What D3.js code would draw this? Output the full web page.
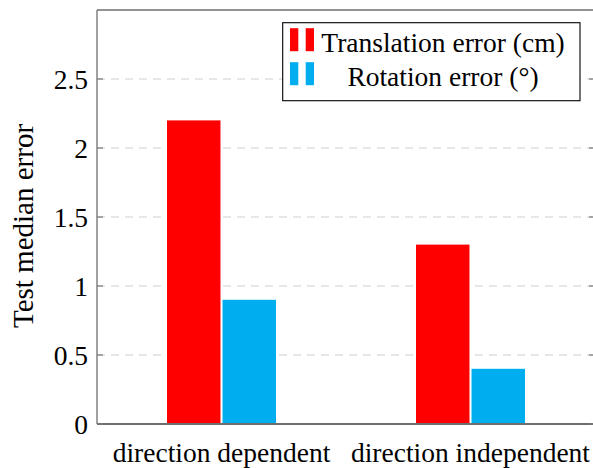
<!DOCTYPE html>
<html>
<head>
<meta charset="utf-8">
<script src="https://cdn.jsdelivr.net/npm/d3@7"></script>
<style>
  html, body { margin: 0; padding: 0; background: #fff; }
  svg { display: block; }
  text { font-family: "Liberation Serif", "Times New Roman", serif; fill: #000; }
</style>
</head>
<body>
<svg id="chart" width="593" height="468"></svg>
<script>
// Data
const categories = ["direction dependent", "direction independent"];
const seriesNames = ["Translation error (cm)", "Rotation error (°)"];
const translationError = [2.2, 1.3];
const rotationError = [0.9, 0.4];
const yTicks = [0, 0.5, 1, 1.5, 2, 2.5];
const yLabel = "Test median error";
const seriesColors = ["#ff0000", "#00aeef"];

const seriesValues = [translationError, rotationError];

const svg = d3.select("#chart");
const margin = { left: 97, right: -2, top: 10, bottom: 44 };
const W = 593, H = 468;
const x0 = margin.left, x1 = W - margin.right;
const y0 = H - margin.bottom, y1 = margin.top;

const x = d3.scaleBand().domain(categories).range([x0, x1]).padding(0);
const y = d3.scaleLinear().domain([0, 3]).range([y0, y1]);

const groupHalf = 54.5;
const xs = d3.scaleBand().domain(d3.range(seriesNames.length))
  .range([-groupHalf, groupHalf]).paddingInner(0.037).paddingOuter(0);

// Grid lines
svg.append("g").selectAll("line")
  .data(yTicks.filter(t => t > 0))
  .join("line")
  .attr("x1", x0).attr("x2", x1)
  .attr("y1", d => y(d)).attr("y2", d => y(d))
  .attr("stroke", "#cfcfcf").attr("stroke-width", 1.2)
  .attr("stroke-dasharray", "8,6");

// Bars
const groups = svg.append("g").selectAll("g")
  .data(categories)
  .join("g")
  .attr("transform", d => `translate(${x(d) + x.bandwidth() / 2},0)`);

groups.selectAll("rect")
  .data((d, i) => seriesValues.map((vals, s) => ({ s, v: vals[i] })))
  .join("rect")
  .attr("x", d => xs(d.s))
  .attr("width", xs.bandwidth())
  .attr("y", d => y(d.v))
  .attr("height", d => y(0) - y(d.v))
  .attr("fill", d => seriesColors[d.s]);

// Frame
const frame = svg.append("g").attr("stroke", "#6e6e6e").attr("fill", "none");
frame.append("line").attr("x1", x0).attr("x2", x0).attr("y1", y1).attr("y2", y0).attr("stroke-width", 1.3);
frame.append("line").attr("x1", x0).attr("x2", x1).attr("y1", y1).attr("y2", y1).attr("stroke-width", 1.3);
frame.append("line").attr("x1", x1).attr("x2", x1).attr("y1", y1).attr("y2", y0).attr("stroke-width", 1.3);
frame.append("line").attr("x1", x0).attr("x2", x1).attr("y1", y0).attr("y2", y0).attr("stroke-width", 1.8);

// Y ticks (inward on both sides)
const tickG = svg.append("g").attr("stroke", "#7a7a7a").attr("stroke-width", 1.2);
yTicks.forEach(t => {
  tickG.append("line").attr("x1", x0).attr("x2", x0 + 6).attr("y1", y(t)).attr("y2", y(t));
  tickG.append("line").attr("x1", x1 - 6).attr("x2", x1).attr("y1", y(t)).attr("y2", y(t));
});

// Y tick labels
svg.append("g").selectAll("text")
  .data(yTicks)
  .join("text")
  .attr("x", 88)
  .attr("y", d => y(d) + 9.5)
  .attr("text-anchor", "end")
  .attr("font-size", 27.5)
  .text(d => d3.format("")(d));

// X category labels
svg.append("g").selectAll("text")
  .data(categories)
  .join("text")
  .attr("x", d => x(d) + x.bandwidth() / 2)
  .attr("y", 461.5)
  .attr("text-anchor", "middle")
  .attr("font-size", 27.5)
  .text(d => d);

// Y axis title
svg.append("text")
  .attr("transform", `translate(33,226) rotate(-90)`)
  .attr("text-anchor", "middle")
  .attr("font-size", 29)
  .text(yLabel);

// Legend
const leg = svg.append("g");
leg.append("rect").attr("x", 282.7).attr("y", 22.7).attr("width", 297.3).attr("height", 78)
  .attr("fill", "#fff").attr("stroke", "#000").attr("stroke-width", 1.1);
const legRows = [39.7, 73.7];
seriesNames.forEach((name, i) => {
  const cy = legRows[i];
  [290, 305.7].forEach(lx => {
    leg.append("rect").attr("x", lx).attr("y", cy - 11.5).attr("width", 8.3).attr("height", 23)
      .attr("fill", seriesColors[i]);
  });
  leg.append("text").attr("x", 443).attr("y", cy + 12.5)
    .attr("text-anchor", "middle").attr("font-size", 27.5).text(name);
});
</script>
</body>
</html>
